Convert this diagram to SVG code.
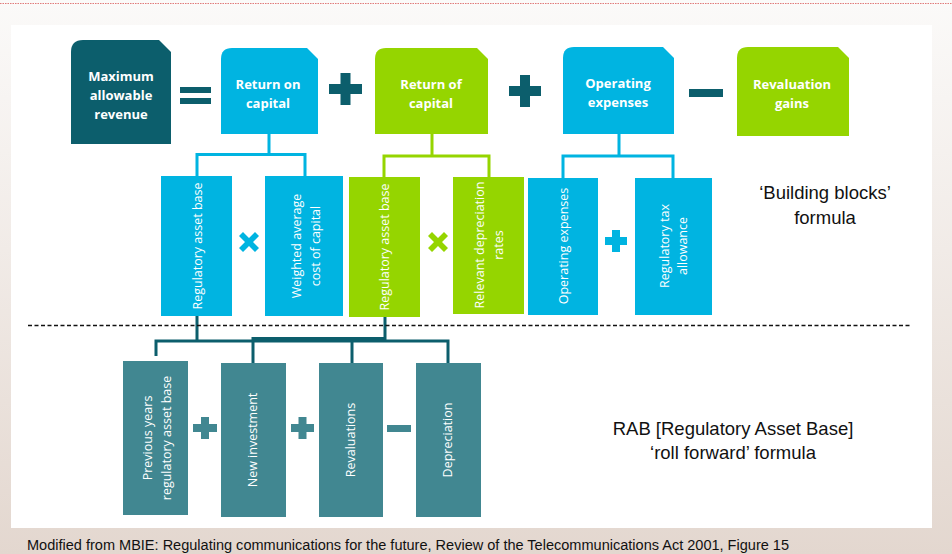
<svg xmlns="http://www.w3.org/2000/svg" width="952" height="554" viewBox="0 0 952 554">
  <defs>
    <linearGradient id="bg" x1="0" y1="0" x2="0" y2="1">
      <stop offset="0" stop-color="#fbfaf9"/>
      <stop offset="0.45" stop-color="#f1ebe7"/>
      <stop offset="1" stop-color="#e3d7cf"/>
    </linearGradient>
    <style>
      .dark { fill: #0c5e6c; }
      .blue { fill: #00b4e1; }
      .green { fill: #95d500; }
      .teal { fill: #418791; }
      .head { font-family: "Open Sans", "Liberation Sans", sans-serif; font-size: 13px; font-weight: bold; fill: #ffffff; text-anchor: middle; }
      .vt { font-family: "Open Sans", "Liberation Sans", sans-serif; font-size: 12.5px; fill: #ffffff; text-anchor: middle; }
      .note { font-family: "Liberation Sans", Arial, sans-serif; font-size: 18.5px; fill: #111111; text-anchor: middle; }
      .lnB { fill: none; stroke: #00b4e1; stroke-width: 3; }
      .lnG { fill: none; stroke: #95d500; stroke-width: 3; }
      .lnD { fill: none; stroke: #0c5e6c; stroke-width: 3; }
    </style>
  </defs>

  <!-- page background and white panel -->
  <rect x="0" y="0" width="952" height="554" fill="url(#bg)"/>
  <line x1="0" y1="3.5" x2="952" y2="3.5" stroke="#e07a7a" stroke-width="1.2" stroke-dasharray="1.5 1"/>
  <rect x="11" y="25" width="921" height="503" fill="#ffffff"/>

  <!-- connectors -->
  <g id="connectors">
    <path class="lnB" d="M269 134 V154.5 M197 176 V154.5 H305 V176"/>
    <path class="lnG" d="M432 134 V156 M384 177 V156 H489 V177"/>
    <path class="lnB" d="M619 134 V156 M563 178 V156 H673 V178"/>
    <path class="lnD" d="M197 316 V341 M156 356 V341 H448 V363"/>
    <path class="lnD" d="M385 317 V338.5 H253 V363 M352 338.5 V363"/>
  </g>

  <!-- divider between the two formulas -->
  <line x1="28" y1="325.5" x2="912" y2="325.5" stroke="#111111" stroke-width="1.5" stroke-dasharray="4 2.5"/>

  <!-- top row -->
  <g id="max-revenue">
    <path class="dark" d="M71 52 Q71 40 83 40 H159 L171 52 V144 H71 Z"/>
    <text class="head" x="121" y="81">Maximum</text>
    <text class="head" x="121" y="100">allowable</text>
    <text class="head" x="121" y="119">revenue</text>
  </g>
  <g id="op-equals" class="dark">
    <rect x="180" y="87" width="31" height="6"/>
    <rect x="180" y="98" width="31" height="6"/>
  </g>
  <g id="return-on-capital">
    <path class="blue" d="M221 59 Q221 48 232 48 H307 L318 59 V134 H221 Z"/>
    <text class="head" x="268" y="89">Return on</text>
    <text class="head" x="268" y="108">capital</text>
  </g>
  <g id="op-plus-1" class="dark">
    <rect x="329" y="84" width="33" height="10"/>
    <rect x="340.5" y="73" width="10" height="32"/>
  </g>
  <g id="return-of-capital">
    <path class="green" d="M375 59 Q375 48 386 48 H477 L488 59 V134 H375 Z"/>
    <text class="head" x="431" y="89">Return of</text>
    <text class="head" x="431" y="108">capital</text>
  </g>
  <g id="op-plus-2" class="dark">
    <rect x="509" y="86" width="32" height="10"/>
    <rect x="520" y="75" width="10" height="32"/>
  </g>
  <g id="operating-expenses">
    <path class="blue" d="M563 58 Q563 47 574 47 H663 L674 58 V134 H563 Z"/>
    <text class="head" x="618" y="88">Operating</text>
    <text class="head" x="618" y="107">expenses</text>
  </g>
  <g id="op-minus-1" class="dark">
    <rect x="689" y="89" width="34" height="8"/>
  </g>
  <g id="revaluation-gains">
    <path class="green" d="M737 58 Q737 47 748 47 H838 L849 58 V136 H737 Z"/>
    <text class="head" x="792" y="89">Revaluation</text>
    <text class="head" x="792" y="108">gains</text>
  </g>

  <!-- building block components -->
  <g id="rab-return-on">
    <rect class="blue" x="161" y="176" width="71" height="140"/>
    <text class="vt" transform="translate(202 246) rotate(-90)">Regulatory asset base</text>
  </g>
  <g id="op-times-1" class="blue">
    <path d="M239 236 L243 232 L249 238 L255 232 L259 236 L253 242 L259 248 L255 252 L249 246 L243 252 L239 248 L245 242 Z"/>
  </g>
  <g id="wacc">
    <rect class="blue" x="265" y="176" width="78" height="140"/>
    <text class="vt" transform="translate(301 246) rotate(-90)">Weighted average</text>
    <text class="vt" transform="translate(320 246) rotate(-90)">cost of capital</text>
  </g>
  <g id="rab-return-of">
    <rect class="green" x="349" y="177" width="71" height="140"/>
    <text class="vt" transform="translate(389 247) rotate(-90)">Regulatory asset base</text>
  </g>
  <g id="op-times-2" class="green">
    <path d="M428 236 L432 232 L438 238 L444 232 L448 236 L442 242 L448 248 L444 252 L438 246 L432 252 L428 248 L434 242 Z"/>
  </g>
  <g id="depreciation-rates">
    <rect class="green" x="453" y="177" width="71" height="137"/>
    <text class="vt" transform="translate(484 245) rotate(-90)">Relevant depreciation</text>
    <text class="vt" transform="translate(503 245) rotate(-90)">rates</text>
  </g>
  <g id="opex">
    <rect class="blue" x="528" y="178" width="70" height="137"/>
    <text class="vt" transform="translate(568 246) rotate(-90)">Operating expenses</text>
  </g>
  <g id="op-plus-3" class="blue">
    <rect x="605" y="237" width="22" height="8"/>
    <rect x="612" y="230" width="8" height="22"/>
  </g>
  <g id="tax-allowance">
    <rect class="blue" x="635" y="178" width="77" height="137"/>
    <text class="vt" transform="translate(669 246) rotate(-90)">Regulatory tax</text>
    <text class="vt" transform="translate(687 246) rotate(-90)">allowance</text>
  </g>

  <!-- roll forward components -->
  <g id="previous-rab">
    <rect class="teal" x="123" y="361" width="65" height="154"/>
    <text class="vt" transform="translate(152 438) rotate(-90)">Previous years</text>
    <text class="vt" transform="translate(171 438) rotate(-90)">regulatory asset base</text>
  </g>
  <g id="op-plus-4" class="teal">
    <rect x="193" y="424" width="24" height="8"/>
    <rect x="201" y="417" width="8" height="22"/>
  </g>
  <g id="new-investment">
    <rect class="teal" x="221" y="363" width="65" height="154"/>
    <text class="vt" transform="translate(257 440) rotate(-90)">New investment</text>
  </g>
  <g id="op-plus-5" class="teal">
    <rect x="291" y="424" width="23" height="8"/>
    <rect x="298.5" y="417" width="8" height="22"/>
  </g>
  <g id="revaluations">
    <rect class="teal" x="319" y="363" width="64" height="154"/>
    <text class="vt" transform="translate(355 440) rotate(-90)">Revaluations</text>
  </g>
  <g id="op-minus-2" class="teal">
    <rect x="387" y="425" width="24" height="7"/>
  </g>
  <g id="depreciation">
    <rect class="teal" x="416" y="363" width="65" height="154"/>
    <text class="vt" transform="translate(452 440) rotate(-90)">Depreciation</text>
  </g>

  <!-- formula labels -->
  <text class="note" x="825" y="199">‘Building blocks’</text>
  <text class="note" x="825" y="224">formula</text>
  <text class="note" x="733" y="435">RAB [Regulatory Asset Base]</text>
  <text class="note" x="733" y="459">‘roll forward’ formula</text>

  <!-- source line -->
  <text x="27" y="550" font-family="Liberation Sans, Arial, sans-serif" font-size="14" fill="#111111" textLength="762" lengthAdjust="spacingAndGlyphs">Modified from MBIE: Regulating communications for the future, Review of the Telecommunications Act 2001, Figure 15</text>
</svg>
